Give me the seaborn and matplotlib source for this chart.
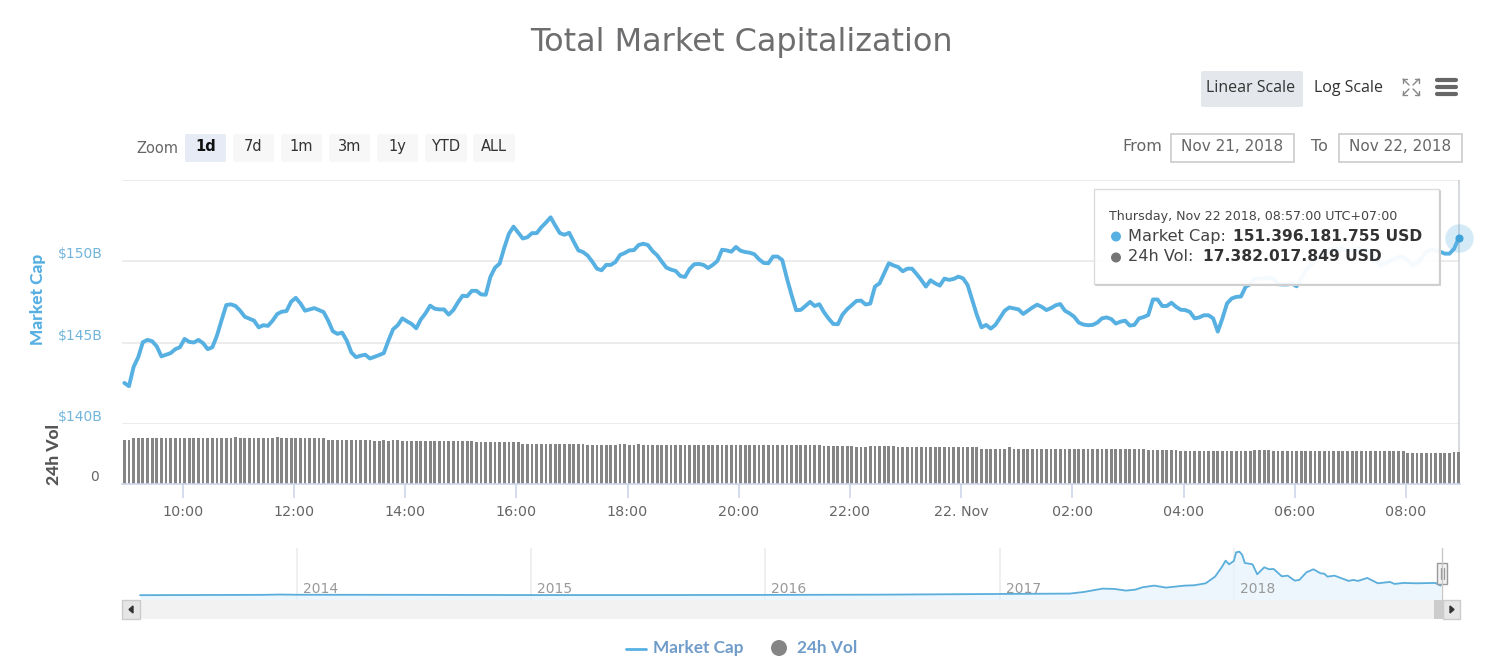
"""Total market capitalization chart, one day view with volume and navigator."""

import matplotlib
matplotlib.use("Agg")
import matplotlib.pyplot as plt
import numpy as np
import pandas as pd
import seaborn as sns
from matplotlib.lines import Line2D
from matplotlib.patches import Circle, FancyBboxPatch, Polygon, Rectangle

# market cap in $B, one reading every 5 minutes from Nov 21 08:57 to Nov 22 08:57
market_cap = [
    142.52, 142.32, 143.50, 144.10, 145.02, 145.16, 145.08, 144.76, 144.15, 144.25,
    144.35, 144.59, 144.71, 145.22, 145.04, 145.00, 145.16, 144.96, 144.59, 144.71,
    145.43, 146.38, 147.30, 147.34, 147.24, 146.95, 146.58, 146.46, 146.34, 145.93,
    146.06, 146.02, 146.34, 146.75, 146.89, 146.93, 147.50, 147.74, 147.40, 146.95,
    147.03, 147.11, 146.99, 146.87, 146.34, 145.69, 145.53, 145.61, 145.12, 144.39,
    144.10, 144.19, 144.25, 144.02, 144.12, 144.23, 144.35, 145.12, 145.81, 146.06,
    146.48, 146.30, 146.14, 145.87, 146.42, 146.79, 147.26, 147.07, 147.03, 147.03,
    146.71, 146.99, 147.46, 147.87, 147.84, 148.17, 148.17, 147.95, 147.93, 149.02,
    149.59, 149.84, 150.81, 151.67, 152.11, 151.75, 151.38, 151.46, 151.71, 151.71,
    152.07, 152.36, 152.68, 152.18, 151.71, 151.61, 151.73, 151.18, 150.65, 150.55,
    150.33, 149.96, 149.53, 149.43, 149.76, 149.76, 149.94, 150.37, 150.49, 150.65,
    150.67, 150.98, 151.06, 150.98, 150.61, 150.35, 149.96, 149.59, 149.47, 149.39,
    149.08, 149.02, 149.51, 149.80, 149.82, 149.76, 149.57, 149.76, 150.00, 150.69,
    150.65, 150.57, 150.86, 150.63, 150.55, 150.51, 150.41, 150.10, 149.88, 149.86,
    150.27, 150.27, 150.06, 148.94, 147.92, 146.98, 147.00, 147.24, 147.49, 147.24,
    147.35, 146.86, 146.47, 146.14, 146.12, 146.71, 147.04, 147.29, 147.55, 147.57,
    147.33, 147.39, 148.43, 148.63, 149.24, 149.86, 149.73, 149.63, 149.37, 149.53,
    149.53, 149.20, 148.84, 148.43, 148.82, 148.63, 148.49, 148.92, 148.84, 148.90,
    149.04, 148.94, 148.53, 147.61, 146.69, 145.93, 146.08, 145.85, 146.08, 146.52,
    146.95, 147.15, 147.09, 147.03, 146.75, 146.95, 147.15, 147.32, 147.19, 146.99,
    147.11, 147.28, 147.36, 146.95, 146.79, 146.58, 146.22, 146.10, 146.06, 146.08,
    146.22, 146.48, 146.54, 146.44, 146.16, 146.28, 146.34, 146.04, 146.08, 146.48,
    146.56, 146.69, 147.64, 147.64, 147.24, 147.24, 147.44, 147.19, 147.01, 146.99,
    146.87, 146.48, 146.54, 146.67, 146.67, 146.48, 145.67, 146.48, 147.40, 147.70,
    147.80, 147.82, 148.41, 148.58, 148.92, 148.92, 148.92, 148.98, 148.92, 148.58,
    148.56, 148.56, 148.62, 148.45, 148.92, 149.43, 149.74, 150.04, 150.28, 150.49,
    150.69, 150.75, 150.77, 150.73, 150.69, 150.69, 150.75, 150.71, 150.65, 150.49,
    150.08, 149.76, 149.84, 150.00, 150.12, 150.24, 150.28, 150.04, 149.76, 149.88,
    150.20, 150.55, 150.69, 150.65, 150.57, 150.45, 150.45, 150.75, 151.396,
]

# 24h volume in $B, same timestamps
volume = [
    23.65, 23.65, 24.55, 24.55, 24.55, 24.55, 24.55, 24.55, 24.55, 24.55,
    24.55, 24.55, 24.55, 24.55, 24.55, 24.55, 24.55, 24.55, 24.55, 24.55,
    24.55, 24.55, 24.55, 24.55, 25.09, 24.55, 24.55, 24.55, 24.55, 24.55,
    24.55, 24.55, 24.55, 25.09, 24.55, 24.55, 24.55, 24.55, 24.55, 24.55,
    24.55, 24.55, 24.55, 24.55, 23.65, 23.65, 23.65, 23.65, 23.65, 23.65,
    23.65, 23.65, 23.65, 23.65, 23.12, 23.12, 23.65, 23.12, 23.65, 23.65,
    23.12, 23.12, 23.12, 23.12, 23.12, 23.12, 23.12, 23.12, 23.12, 23.12,
    23.12, 23.12, 23.12, 23.12, 23.12, 23.12, 22.40, 22.40, 22.40, 22.40,
    22.40, 22.40, 22.40, 22.40, 22.40, 22.40, 21.68, 21.68, 21.68, 21.68,
    21.68, 21.68, 21.68, 21.68, 21.68, 21.68, 21.68, 21.68, 21.68, 21.68,
    20.97, 20.97, 20.97, 20.97, 20.97, 20.97, 20.97, 21.70, 21.70, 21.00,
    21.00, 21.70, 21.00, 21.00, 21.00, 21.00, 21.00, 21.00, 21.00, 21.00,
    21.00, 21.00, 21.00, 21.00, 21.00, 21.00, 21.00, 21.00, 21.00, 21.00,
    21.00, 21.00, 21.00, 21.00, 21.00, 21.00, 21.00, 21.00, 21.00, 21.00,
    21.00, 21.00, 21.00, 21.00, 21.00, 21.00, 21.00, 21.00, 21.00, 21.00,
    21.00, 20.40, 20.40, 20.40, 20.40, 20.40, 20.40, 20.40, 19.70, 19.70,
    19.70, 20.40, 20.40, 20.40, 20.40, 20.40, 20.40, 19.70, 19.70, 19.70,
    19.70, 19.70, 19.70, 19.70, 19.70, 19.70, 19.70, 19.70, 19.70, 19.70,
    19.70, 19.70, 19.70, 19.70, 19.70, 19.00, 19.00, 19.00, 19.00, 19.00,
    19.00, 19.70, 19.00, 19.00, 19.00, 19.00, 19.00, 19.00, 19.00, 19.00,
    19.00, 19.00, 19.00, 19.00, 19.00, 19.00, 19.00, 19.00, 19.00, 19.00,
    19.00, 19.00, 19.00, 19.00, 19.00, 19.00, 19.00, 19.00, 19.00, 19.00,
    19.00, 18.30, 18.30, 18.30, 18.30, 18.30, 18.30, 18.30, 17.60, 17.60,
    17.60, 17.60, 17.60, 17.60, 17.60, 17.60, 17.60, 17.60, 17.60, 17.60,
    17.60, 17.60, 17.60, 17.60, 18.30, 18.30, 18.30, 18.30, 17.60, 17.60,
    17.60, 17.60, 17.60, 17.60, 17.60, 17.60, 17.60, 17.60, 17.60, 17.60,
    17.60, 17.60, 17.60, 17.60, 17.60, 17.60, 17.60, 17.60, 17.60, 17.60,
    17.60, 17.60, 17.60, 17.60, 17.60, 17.60, 17.60, 16.90, 16.90, 16.90,
    16.90, 16.90, 16.90, 16.90, 16.90, 16.90, 16.90, 17.38, 17.38,
]

# navigator: full history, decimal year and market cap in $B
history_years = [
    2013.33, 2013.85, 2013.93, 2014.0, 2014.5, 2015.0, 2015.5, 2016.0, 2016.5,
    2017.0, 2017.30, 2017.36, 2017.44, 2017.49, 2017.54, 2017.58, 2017.61, 2017.66,
    2017.71, 2017.79, 2017.83, 2017.88, 2017.92, 2017.95, 2017.965, 2017.98, 2018.0,
    2018.01, 2018.024, 2018.036, 2018.047, 2018.08, 2018.10, 2018.13, 2018.15, 2018.17,
    2018.205, 2018.23, 2018.26, 2018.28, 2018.31, 2018.34, 2018.37, 2018.386, 2018.40,
    2018.43, 2018.49, 2018.51, 2018.53, 2018.57, 2018.615, 2018.667, 2018.686, 2018.725,
    2018.78, 2018.86, 2018.883,
]
history_cap = [
    2, 8, 14, 10, 8, 4, 4, 7, 12,
    25, 32, 63, 127, 120, 89, 108, 152, 184,
    146, 184, 190, 228, 355, 545, 659, 590, 653,
    818, 830, 767, 615, 590, 399, 533, 495, 501,
    361, 374, 279, 292, 437, 495, 418, 412, 355,
    374, 273, 292, 273, 330, 228, 254, 216, 235,
    228, 235, 184,
]

cap_ticks = [140, 145, 150, 155]
cap_tick_labels = ["$140B", "$145B", "$150B", ""]
hour_ticks = [10, 12, 14, 16, 18, 20, 22, 24, 26, 28, 30, 32]
hour_tick_labels = ["10:00", "12:00", "14:00", "16:00", "18:00", "20:00",
                    "22:00", "22. Nov", "02:00", "04:00", "06:00", "08:00"]
year_ticks = [2014, 2015, 2016, 2017, 2018]

W, H = 1486, 669
BLUE = "#57b0e2"
GREY = "#858585"
LIGHT = "#ebebeb"
AXIS = "#ccd6eb"

sns.set_theme(style="white")
plt.rcParams["font.family"] = ["DejaVu Sans"]

times = pd.date_range("2018-11-21 08:57", periods=len(market_cap), freq="5min")
hours = (times - pd.Timestamp("2018-11-21")) / pd.Timedelta(hours=1)
df = pd.DataFrame({"hours": hours, "market_cap": market_cap, "volume": volume})
hist = pd.DataFrame({"year": history_years, "cap": history_cap})


def axes_px(x0, y0, x1, y1):
    return [x0 / W, 1 - y1 / H, (x1 - x0) / W, (y1 - y0) / H]


def rect(x0, y0, x1, y1, **kw):
    fig.add_artist(Rectangle((x0 / W, 1 - y1 / H), (x1 - x0) / W, (y1 - y0) / H,
                             transform=fig.transFigure, **kw))


def rounded(x0, y0, x1, y1, color):
    fig.add_artist(FancyBboxPatch((x0 + 2, H - y1 + 2), x1 - x0 - 4, y1 - y0 - 4,
                                  boxstyle="round,pad=2", transform=None,
                                  facecolor=color, edgecolor="none"))


def line(xs, ys, **kw):
    fig.add_artist(Line2D([x / W for x in xs], [1 - y / H for y in ys],
                          transform=fig.transFigure, **kw))


def put(x, y, s, **kw):
    kw.setdefault("va", "center")
    return fig.text(x / W, 1 - y / H, s, **kw)


fig = plt.figure(figsize=(W / 100, H / 100), dpi=100)
ax = fig.add_axes(axes_px(122, 179.5, 1460, 424))
ax_vol = fig.add_axes(axes_px(122, 424, 1460, 484))
ax_nav = fig.add_axes(axes_px(122, 548, 1461, 600))

# market cap line
sns.lineplot(data=df, x="hours", y="market_cap", ax=ax, color=BLUE, linewidth=2.8,
             errorbar=None, solid_joinstyle="round")
ax.scatter(hours[-1], market_cap[-1], s=420, color=BLUE, alpha=0.25, linewidth=0,
           zorder=5, clip_on=False)
ax.scatter(hours[-1], market_cap[-1], s=34, color="#3fa3d9", linewidth=0,
           zorder=6, clip_on=False)
ax.axvline(hours[-1], color="#cfd3d8", linewidth=1.2, zorder=1)
ax.set_xlim(8.908, 32.973)
ax.set_ylim(140, 155)
ax.set_yticks(cap_ticks, cap_tick_labels)
ax.set_xticks([])
ax.set_xlabel("")
ax.set_ylabel("Market Cap", color=BLUE, fontsize=12.4, fontweight="black", family="Lato", labelpad=0)
ax.yaxis.set_label_coords(-0.0565, 0.51)
ax.grid(axis="y", color=LIGHT, linewidth=1.3)
ax.set_axisbelow(True)
ax.tick_params(axis="y", length=0, pad=14, labelsize=10, labelcolor="#72b4dc")
plt.setp(ax.get_yticklabels(), va="bottom")
sns.despine(ax=ax, left=True, bottom=True, top=True, right=True)

# volume bars
sns.barplot(data=df, x="hours", y="volume", ax=ax_vol, color=GREY, saturation=1,
            native_scale=True, width=0.6, errorbar=None, linewidth=0)
ax_vol.axvline(hours[-1], color="#cfd3d8", linewidth=1.2, zorder=0)
ax_vol.set_xlim(8.908, 32.973)
ax_vol.set_ylim(0, 32.26)
ax_vol.set_yticks([0], ["0"])
ax_vol.set_xticks(hour_ticks, hour_tick_labels)
ax_vol.set_xlabel("")
ax_vol.set_ylabel("24h Vol", color="#555555", fontsize=12.6, fontweight="black", family="Lato", labelpad=0)
ax_vol.yaxis.set_label_coords(-0.0445, 0.5)
ax_vol.tick_params(axis="y", length=0, pad=17, labelsize=10, labelcolor="#666666")
plt.setp(ax_vol.get_yticklabels(), va="bottom")
ax_vol.tick_params(axis="x", bottom=True, length=10, width=1.2, color=AXIS, pad=5,
                   labelsize=10.3, labelcolor="#666666")
sns.despine(ax=ax_vol, left=True, top=True, right=True)
ax_vol.spines["bottom"].set_color(AXIS)
ax_vol.spines["bottom"].set_linewidth(1.2)

# navigator
ax_nav.fill_between(hist["year"], hist["cap"], -90, color="#e6f3fc", alpha=0.75, linewidth=0)
sns.lineplot(data=hist, x="year", y="cap", ax=ax_nav, color="#5aaedb", linewidth=1.3,
             errorbar=None)
ax_nav.set_xlim(2013.253, 2018.97)
ax_nav.set_ylim(-90, 900)
ax_nav.set_xticks(year_ticks, [])
ax_nav.set_yticks([])
ax_nav.set_xlabel("")
ax_nav.set_ylabel("")
ax_nav.grid(axis="x", color=LIGHT, linewidth=1.1)
ax_nav.set_axisbelow(True)
ax_nav.tick_params(axis="x", length=0)
for year in year_ticks:
    ax_nav.annotate(str(year), (year, 0), xytext=(6, -1), textcoords="offset pixels",
                    color="#999999", fontsize=10, va="bottom")
sns.despine(ax=ax_nav, left=True, bottom=True, right=True)
ax_nav.spines["top"].set_color("#cccccc")
ax_nav.spines["top"].set_linewidth(1.3)

# title and top controls
put(741, 42.5, "Total Market Capitalization", ha="center", fontsize=23, color="#6e6e70")

rounded(1201, 71, 1303, 107, "#e4e7ec")
put(1251, 87.5, "Linear Scale", ha="center", fontsize=11.5, color="#333333", family="Open Sans")
put(1348.5, 87.5, "Log Scale", ha="center", fontsize=11.5, color="#333333", family="Open Sans")

for sx, sy in [(1403, 79), (1419, 79), (1403, 95), (1419, 95)]:
    dx = 6 if sx < 1410 else -6
    dy = 6 if sy < 87 else -6
    line([sx, sx + dx], [sy, sy + dy], color="#888888", linewidth=1)
    line([sx, sx + dx * 0.6], [sy, sy], color="#888888", linewidth=1)
    line([sx, sx], [sy, sy + dy * 0.6], color="#888888", linewidth=1)
for y in [80, 87.3, 94.3]:
    line([1436.5, 1455.5], [y, y], color="#666666", linewidth=3, solid_capstyle="round")

put(157, 148.5, "Zoom", ha="center", fontsize=10.5, color="#666666")
zoom_buttons = [("1d", 185, 226), ("7d", 233, 274), ("1m", 281, 322), ("3m", 329, 370),
                ("1y", 377, 418), ("YTD", 425, 467), ("ALL", 473, 515)]
for name, x0, x1 in zoom_buttons:
    active = name == "1d"
    rounded(x0, 134, x1, 162, "#e6ebf5" if active else "#f7f7f7")
    put((x0 + x1) / 2, 146.5, name, ha="center", fontsize=10.5, color="#111111" if active else "#333333",
        fontweight="bold" if active else "normal")

put(1142.5, 146.5, "From", ha="center", fontsize=11.5, color="#666666")
put(1319.5, 146.5, "To", ha="center", fontsize=11.5, color="#666666")
for x0, x1, date in [(1171, 1294, "Nov 21, 2018"), (1339, 1462, "Nov 22, 2018")]:
    rect(x0, 134, x1, 162, facecolor="white", edgecolor="#cccccc", linewidth=1.2)
    put((x0 + x1) / 2, 146.5, date, ha="center", fontsize=11, color="#666666")

# tooltip
line([1096, 1440, 1440], [285, 285, 191], color="#cfcfcf", linewidth=1.5)
rect(1094, 189, 1439, 284, facecolor=(1, 1, 1, 0.94), edgecolor="#dcdcdc", linewidth=1)
put(1109, 216, "Thursday, Nov 22 2018, 08:57:00 UTC+07:00", fontsize=9.1, color="#444444")
put(1128, 236, "Market Cap:", fontsize=11.6, color="#444444")
put(1233, 236, "151.396.181.755 USD", fontsize=11.2, color="#333333", fontweight="bold")
put(1128, 257, "24h Vol:", fontsize=11.6, color="#444444")
put(1203, 257, "17.382.017.849 USD", fontsize=11.2, color="#333333", fontweight="bold")
fig.add_artist(Circle((1116, H - 236.5), 5, transform=None, facecolor=BLUE, edgecolor="none"))
fig.add_artist(Circle((1116, H - 257.5), 5, transform=None, facecolor="#757575", edgecolor="none"))

# scrollbar and navigator handle
rect(122, 600, 1461, 619, facecolor="#f2f2f2", edgecolor="none")
rect(1434, 600, 1443, 619, facecolor="#cccccc", edgecolor="none")
rect(122, 600, 140, 619, facecolor="#e6e6e6", edgecolor="#cccccc", linewidth=1)
rect(1443, 600, 1460, 619, facecolor="#e6e6e6", edgecolor="#cccccc", linewidth=1)
fig.add_artist(Polygon([(129, H - 609.5), (133, H - 606), (133, H - 613)], transform=None, color="#333333"))
fig.add_artist(Polygon([(1454, H - 609.5), (1450, H - 606), (1450, H - 613)], transform=None, color="#333333"))
line([1441.5, 1441.5], [548, 600], color="#c8c8c8", linewidth=1)
rect(1437, 563, 1447, 584, facecolor="#f2f2f2", edgecolor="#999999", linewidth=1)
line([1440.5, 1440.5], [568, 579], color="#999999", linewidth=0.9)
line([1443.5, 1443.5], [568, 579], color="#999999", linewidth=0.9)

# legend
line([626, 646], [648.5, 648.5], color=BLUE, linewidth=2)
put(653, 648, "Market Cap", fontsize=12.4, color="#6f9cc9", fontweight="bold", family="Lato")
fig.add_artist(Circle((779, H - 648), 8, transform=None, facecolor=GREY, edgecolor="none"))
put(797, 648, "24h Vol", fontsize=12.4, color="#6f9cc9", fontweight="bold", family="Lato")

fig.savefig("out.png", dpi=100)
